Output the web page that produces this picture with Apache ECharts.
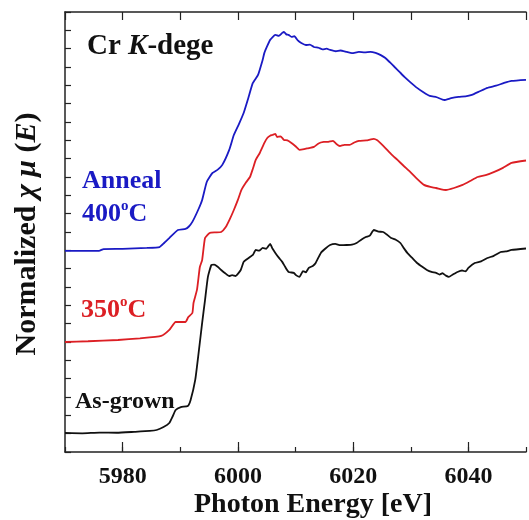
<!DOCTYPE html>
<html>
<head>
<meta charset="utf-8">
<script src="https://cdn.jsdelivr.net/npm/echarts@6/dist/echarts.min.js"></script>
<style>
  html, body { margin: 0; padding: 0; background: #fff; }
  #chart { width: 529px; height: 520px; }
</style>
</head>
<body>
<div id="chart"></div>
<script>
// photon energy [eV] and normalized absorption
const asGrownE  = [5970, 5973, 5976, 5979, 5982, 5984.7, 5985.9, 5987.1, 5988.1, 5988.7, 5989.2, 5990.1, 5991.3, 5991.8, 5992.6, 5993.1, 5993.8, 5994.3, 5994.8, 5995.4, 5995.9, 5996.5, 5997.1, 5997.8, 5998.5, 5999.0, 5999.6, 6000.5, 6001.0, 6001.5, 6002.1, 6002.6, 6003.1, 6003.7, 6004.3, 6004.9, 6005.6, 6006.0, 6006.5, 6007.1, 6007.7, 6008.2, 6008.8, 6009.7, 6010.2, 6010.7, 6011.3, 6011.8, 6012.3, 6013.0, 6013.5, 6014.4, 6015.2, 6016.0, 6016.9, 6017.8, 6018.9, 6019.8, 6020.6, 6021.4, 6022.2, 6022.9, 6023.6, 6024.4, 6025.2, 6025.9, 6026.6, 6027.4, 6028.2, 6028.8, 6029.4, 6030.2, 6031.1, 6032.0, 6032.8, 6033.6, 6034.4, 6035.0, 6035.5, 6036.1, 6036.6, 6037.3, 6038.1, 6038.9, 6039.5, 6040.0, 6041.1, 6042.2, 6043.3, 6044.4, 6045.6, 6046.5, 6047.5, 6050];
const asGrownMu = [0.104, 0.102, 0.106, 0.105, 0.110, 0.115, 0.120, 0.136, 0.158, 0.195, 0.229, 0.245, 0.251, 0.284, 0.393, 0.518, 0.704, 0.829, 0.955, 1.020, 1.022, 1.010, 0.993, 0.975, 0.960, 0.965, 0.960, 0.993, 1.037, 1.050, 1.064, 1.075, 1.102, 1.098, 1.113, 1.108, 1.135, 1.110, 1.086, 1.060, 1.037, 1.010, 0.982, 0.977, 0.962, 0.955, 0.987, 0.980, 1.004, 1.015, 1.031, 1.086, 1.110, 1.129, 1.135, 1.128, 1.129, 1.131, 1.140, 1.158, 1.173, 1.180, 1.211, 1.202, 1.200, 1.185, 1.167, 1.158, 1.140, 1.112, 1.086, 1.060, 1.031, 1.010, 0.993, 0.982, 0.977, 0.968, 0.975, 0.962, 0.955, 0.968, 0.982, 0.990, 0.985, 1.004, 1.031, 1.040, 1.058, 1.070, 1.091, 1.094, 1.102, 1.110];

const c350E  = [5970, 5974, 5979.2, 5983, 5986.7, 5988.1, 5989.2, 5990.9, 5991.4, 5992.1, 5992.3, 5992.9, 5993.4, 5993.8, 5994.3, 5995.1, 5996.1, 5997.1, 5997.9, 5998.6, 5999.3, 6000.0, 6000.6, 6001.4, 6002.1, 6002.6, 6003.1, 6003.8, 6004.6, 6005.1, 6005.6, 6006.0, 6006.5, 6006.8, 6007.4, 6008.0, 6008.6, 6009.3, 6010.0, 6010.7, 6011.5, 6012.3, 6013.2, 6014.0, 6014.9, 6015.7, 6016.5, 6017.1, 6017.7, 6018.5, 6019.4, 6020.2, 6021.0, 6022.3, 6023.6, 6024.2, 6024.7, 6025.6, 6026.6, 6027.7, 6028.8, 6029.9, 6031.1, 6032.3, 6033.4, 6034.4, 6035.3, 6036.1, 6037.5, 6039.0, 6040.3, 6041.6, 6043.0, 6044.5, 6046.0, 6047.5, 6050];
const c350Mu = [0.600, 0.604, 0.611, 0.620, 0.633, 0.666, 0.709, 0.709, 0.736, 0.758, 0.813, 0.884, 1.009, 1.047, 1.167, 1.195, 1.198, 1.200, 1.227, 1.270, 1.320, 1.375, 1.429, 1.470, 1.500, 1.545, 1.593, 1.631, 1.686, 1.713, 1.725, 1.729, 1.735, 1.718, 1.722, 1.702, 1.700, 1.686, 1.668, 1.648, 1.652, 1.658, 1.664, 1.683, 1.691, 1.692, 1.697, 1.680, 1.669, 1.675, 1.675, 1.688, 1.697, 1.700, 1.708, 1.700, 1.686, 1.658, 1.625, 1.593, 1.560, 1.528, 1.490, 1.457, 1.446, 1.440, 1.432, 1.429, 1.440, 1.457, 1.478, 1.500, 1.510, 1.528, 1.550, 1.577, 1.590];

const c400E  = [5970, 5975.9, 5976.7, 5980, 5984.2, 5986.4, 5987.2, 5988.1, 5989.6, 5990.9, 5991.5, 5992.1, 5993.1, 5993.8, 5994.6, 5995.6, 5996.5, 5997.3, 5998.5, 5999.3, 6000.2, 6001.0, 6001.8, 6002.6, 6003.5, 6004.3, 6004.6, 6005.1, 6005.6, 6006.5, 6007.1, 6007.7, 6008.0, 6008.4, 6008.8, 6009.3, 6009.8, 6010.4, 6011.0, 6011.8, 6012.5, 6013.2, 6014.0, 6014.7, 6015.4, 6016.0, 6017.0, 6017.8, 6018.9, 6019.8, 6021.0, 6022.0, 6023.0, 6023.9, 6024.8, 6025.6, 6026.4, 6027.2, 6028.0, 6028.9, 6030.0, 6031.1, 6032.2, 6033.3, 6034.5, 6035.8, 6037.0, 6038.3, 6039.5, 6040.6, 6042.0, 6043.3, 6044.8, 6046.2, 6047.5, 6050];
const c400Mu = [1.097, 1.097, 1.107, 1.108, 1.113, 1.118, 1.140, 1.167, 1.211, 1.217, 1.230, 1.255, 1.320, 1.375, 1.473, 1.522, 1.540, 1.566, 1.648, 1.729, 1.790, 1.849, 1.930, 2.013, 2.057, 2.139, 2.177, 2.215, 2.248, 2.275, 2.270, 2.286, 2.291, 2.278, 2.275, 2.264, 2.268, 2.245, 2.231, 2.220, 2.222, 2.209, 2.205, 2.196, 2.200, 2.193, 2.186, 2.190, 2.182, 2.176, 2.182, 2.180, 2.183, 2.177, 2.165, 2.149, 2.125, 2.100, 2.075, 2.046, 2.015, 1.986, 1.962, 1.942, 1.935, 1.920, 1.930, 1.937, 1.940, 1.948, 1.968, 1.986, 1.998, 2.013, 2.024, 2.030];

const xTicks = [5980, 6000, 6020, 6040];

function pairs(xs, ys) {
    return xs.map((x, i) => [x, ys[i]]);
}

const serif = '"Liberation Serif", "DejaVu Serif", serif';
const blue = '#1a1ac4';
const red = '#dc1f24';
const ink = '#111';

let chart = echarts.init(document.getElementById('chart'));
chart.setOption({
    animation: false,
    grid: {
        left: 65,
        top: 12,
        width: 478,
        height: 440
    },
    xAxis: [
    {
        type: 'value',
        position: 'bottom',
        min: 5970,
        max: 6050,
        interval: 10,
        axisLine: { lineStyle: { color: '#222', width: 1.5 } },
        axisTick: {
            inside: true,
            length: 5,
            lineStyle: { color: '#222', width: 1.2 }
        },
        splitLine: { show: false },
        axisLabel: {
            margin: 13,
            color: ink,
            fontFamily: serif,
            fontWeight: 'bold',
            fontSize: 24,
            formatter: v => xTicks.indexOf(v) >= 0 ? String(v) : ''
        }
    },
    {
        type: 'value',
        position: 'top',
        min: 5970,
        max: 6050,
        interval: 10,
        axisLine: { lineStyle: { color: '#222', width: 1.5 } },
        axisTick: {
            inside: true,
            length: 8,
            lineStyle: { color: '#222', width: 1.2 }
        },
        splitLine: { show: false },
        axisLabel: { show: false }
    },
    {
        // longer ticks at the labelled energies
        type: 'value',
        position: 'bottom',
        min: 5970,
        max: 6050,
        axisLine: { show: false },
        axisTick: {
            inside: true,
            length: 10,
            customValues: xTicks,
            lineStyle: { color: '#222', width: 1.2 }
        },
        splitLine: { show: false },
        axisLabel: { show: false }
    }],
    yAxis: {
        type: 'value',
        min: 0,
        max: 2.4,
        interval: 0.1,
        axisLine: { show: true, lineStyle: { color: '#222', width: 1.5 } },
        axisTick: {
            inside: true,
            length: 6,
            lineStyle: { color: '#222', width: 1.2 }
        },
        splitLine: { show: false },
        axisLabel: { show: false }
    },
    series: [
    {
        name: 'As-grown',
        type: 'line',
        showSymbol: false,
        smooth: 0.15,
        lineStyle: { color: ink, width: 1.8 },
        data: pairs(asGrownE, asGrownMu)
    },
    {
        name: '350°C',
        type: 'line',
        showSymbol: false,
        smooth: 0.15,
        lineStyle: { color: red, width: 1.8 },
        data: pairs(c350E, c350Mu)
    },
    {
        name: 'Anneal 400°C',
        type: 'line',
        showSymbol: false,
        smooth: 0.15,
        lineStyle: { color: blue, width: 1.8 },
        data: pairs(c400E, c400Mu)
    }],
    graphic: [
    {
        type: 'text',
        x: 87,
        y: 47,
        style: {
            text: 'Cr {k|K}-dege',
            fill: ink,
            font: 'bold 29px ' + serif,
            verticalAlign: 'middle',
            rich: {
                k: { fontFamily: serif, fontWeight: 'bold', fontStyle: 'italic', fontSize: 29, fill: ink }
            }
        }
    },
    {
        type: 'text',
        x: 82,
        y: 181,
        style: {
            text: 'Anneal',
            fill: blue,
            font: 'bold 26px ' + serif,
            verticalAlign: 'middle'
        }
    },
    {
        type: 'text',
        x: 82,
        y: 214,
        style: {
            text: '400{s|o}C',
            fill: blue,
            font: 'bold 26px ' + serif,
            verticalAlign: 'middle',
            rich: {
                s: { fontSize: 15, fontWeight: 'bold', fontFamily: serif, fill: blue, verticalAlign: 'top', lineHeight: 30 }
            }
        }
    },
    {
        type: 'text',
        x: 81,
        y: 310,
        style: {
            text: '350{s|o}C',
            fill: red,
            font: 'bold 26px ' + serif,
            verticalAlign: 'middle',
            rich: {
                s: { fontSize: 15, fontWeight: 'bold', fontFamily: serif, fill: red, verticalAlign: 'top', lineHeight: 30 }
            }
        }
    },
    {
        type: 'text',
        x: 75,
        y: 402,
        style: {
            text: 'As-grown',
            fill: ink,
            font: 'bold 24px ' + serif,
            verticalAlign: 'middle'
        }
    },
    {
        type: 'text',
        x: 27,
        y: 234,
        rotation: Math.PI / 2,
        style: {
            text: 'Normalized {i|χ μ} ({i|E})',
            fill: ink,
            font: 'bold 30px ' + serif,
            align: 'center',
            verticalAlign: 'middle',
            rich: {
                i: { fontFamily: serif, fontWeight: 'bold', fontStyle: 'italic', fontSize: 30, fill: ink }
            }
        }
    },
    {
        type: 'text',
        x: 313,
        y: 505,
        style: {
            text: 'Photon Energy [eV]',
            fill: ink,
            font: 'bold 28px ' + serif,
            align: 'center',
            verticalAlign: 'middle'
        }
    }]
});
</script>
</body>
</html>
